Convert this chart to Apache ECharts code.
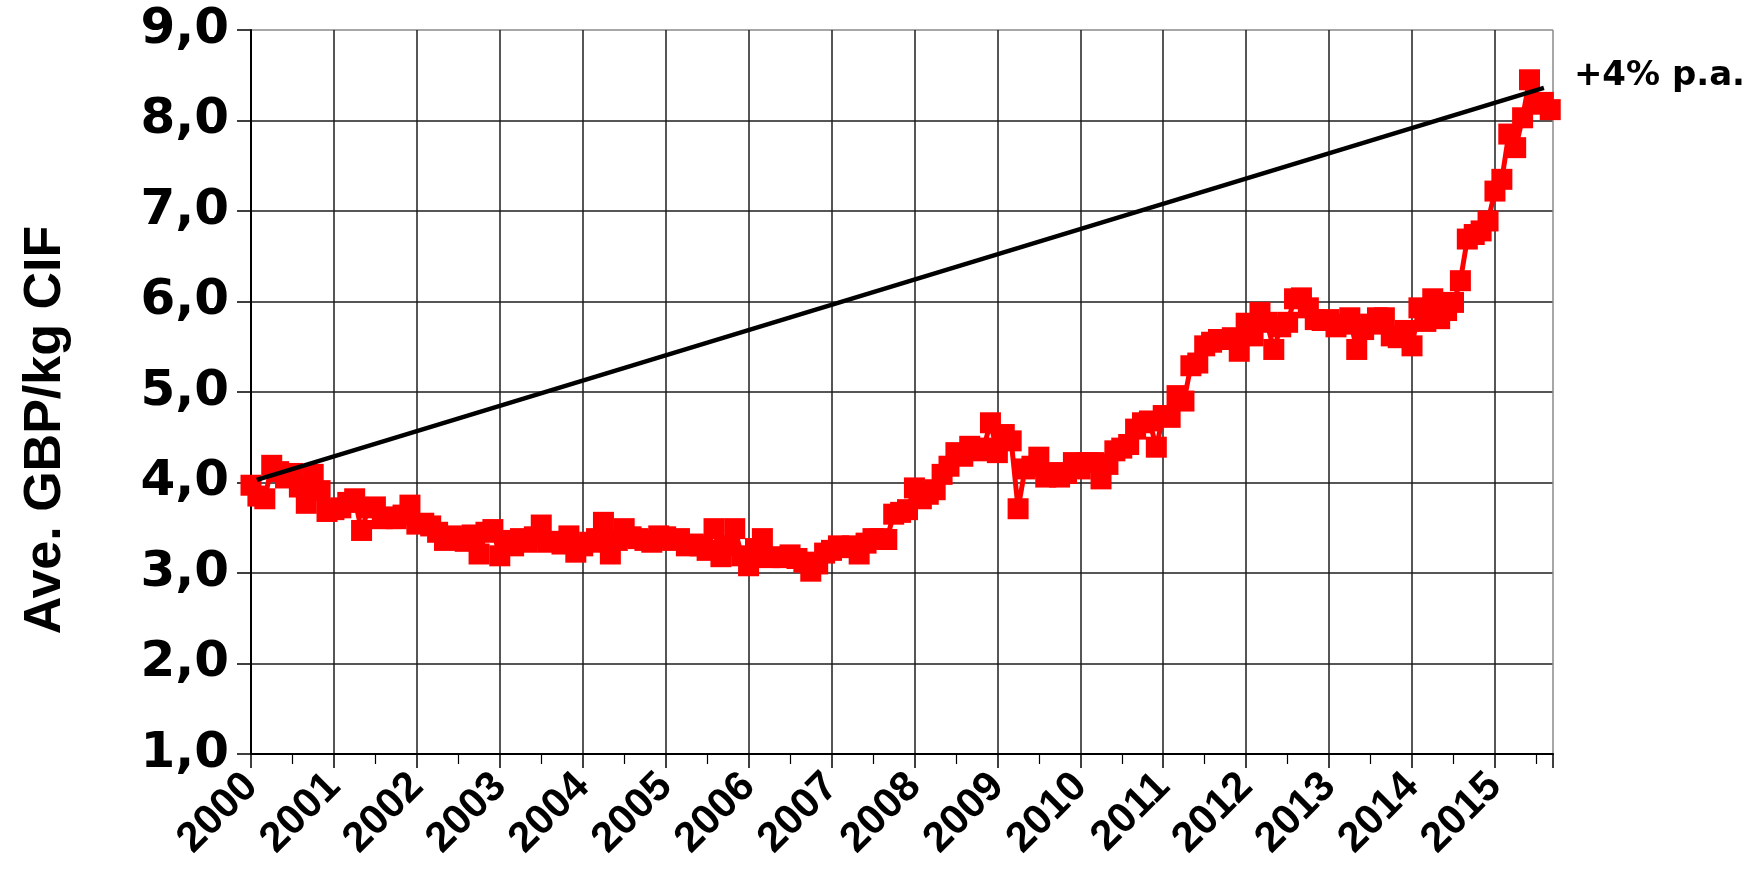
<!DOCTYPE html>
<html><head><meta charset="utf-8">
<script src="https://cdn.jsdelivr.net/npm/echarts@6/dist/echarts.min.js"></script>
<style>html,body{margin:0;padding:0;background:#fff}#c{width:1755px;height:888px}</style>
</head><body><div id="c"></div>
<script>
// Monthly average price, GBP/kg CIF (Jan..Dec)
const startYear = 2000;
const price2000 = [3.97,3.85,3.82,4.19,4.12,4.05,4.10,3.95,3.77,4.09,3.91,3.68];
const price2001 = [3.70,3.72,3.78,3.82,3.47,3.72,3.73,3.60,3.62,3.60,3.64,3.75];
const price2002 = [3.54,3.55,3.52,3.45,3.36,3.41,3.38,3.35,3.42,3.21,3.45,3.48];
const price2003 = [3.19,3.36,3.30,3.38,3.34,3.40,3.53,3.34,3.35,3.32,3.41,3.23];
const price2004 = [3.30,3.34,3.38,3.56,3.21,3.36,3.49,3.40,3.38,3.36,3.34,3.41];
const price2005 = [3.40,3.36,3.38,3.30,3.32,3.30,3.25,3.49,3.18,3.30,3.49,3.19];
const price2006 = [3.08,3.27,3.38,3.17,3.18,3.17,3.20,3.16,3.12,3.02,3.10,3.22];
const price2007 = [3.25,3.30,3.28,3.30,3.21,3.33,3.38,3.38,3.37,3.65,3.67,3.70];
const price2008 = [3.94,3.82,3.87,3.92,4.09,4.18,4.33,4.29,4.40,4.35,4.38,4.66];
const price2009 = [4.33,4.53,4.46,3.71,4.15,4.18,4.28,4.06,4.11,4.06,4.10,4.22];
const price2010 = [4.15,4.22,4.22,4.04,4.20,4.35,4.38,4.42,4.59,4.66,4.68,4.39];
const price2011 = [4.74,4.72,4.96,4.90,5.29,5.32,5.51,5.55,5.58,5.58,5.60,5.45];
const price2012 = [5.76,5.62,5.88,5.77,5.47,5.72,5.77,6.03,6.04,5.93,5.80,5.79];
const price2013 = [5.80,5.72,5.75,5.82,5.47,5.69,5.75,5.82,5.82,5.62,5.60,5.68];
const price2014 = [5.51,5.93,5.78,6.03,5.81,5.90,5.99,6.23,6.69,6.74,6.78,6.89];
const price2015 = [7.22,7.35,7.85,7.70,8.03,8.45,8.18,8.20,8.12];

// Trend line (+4% p.a.) end points [year, value]
const trendStart = [2000.07, 4.03];
const trendEnd = [2015.59, 8.36];
const trendLabel = '+4% p.a.';

// Axes
const yTicks = [1,2,3,4,5,6,7,8,9];
const xFirstYear = 2000;
const xLastYear = 2015;
const xMax = 2015.7;
const yTitle = 'Ave. GBP/kg CIF';

const allPrices = [].concat(price2000,price2001,price2002,price2003,price2004,price2005,
  price2006,price2007,price2008,price2009,price2010,price2011,price2012,price2013,price2014,price2015);
const priceData = allPrices.map((v, i) => [startYear + i / 12, v]);

const ySplitColors = yTicks.map((t, i) => i === yTicks.length - 1 ? '#8a8a8a' : '#1e1e1e');
const xSplitColors = [];
for (let y = xFirstYear; y <= xLastYear; y++) xSplitColors.push('#1e1e1e');
xSplitColors.push('#8a8a8a');

const chart = echarts.init(document.getElementById('c'), null, {renderer: 'canvas'});
chart.setOption({
  animation: false,
  backgroundColor: '#ffffff',
  grid: {left: 251, right: 202, top: 30, bottom: 134, containLabel: false, outerBoundsMode: 'none'},
  xAxis: {
    type: 'value', min: xFirstYear, max: xMax, interval: 1,
    axisLine: {show: true, onZero: false, lineStyle: {color: '#000', width: 2}},
    axisTick: {show: true, length: 14, lineStyle: {color: '#000', width: 1.5}},
    minorTick: {show: true, splitNumber: 2, length: 10, lineStyle: {color: '#000', width: 1.2}},
    splitLine: {show: true, lineStyle: {color: xSplitColors, width: 1.5}},
    axisLabel: {
      rotate: 45, margin: 26,
      fontFamily: "'Liberation Sans', Arial, sans-serif", fontWeight: 'bold', fontSize: 42, color: '#000',
      formatter: v => Math.abs(v - Math.round(v)) < 1e-6 ? String(Math.round(v)) : ''
    }
  },
  yAxis: {
    type: 'value', min: yTicks[0], max: yTicks[yTicks.length - 1], interval: 1,
    name: yTitle, nameLocation: 'middle', nameRotate: 90, nameGap: 179,
    nameTextStyle: {fontFamily: "'Liberation Sans', Arial, sans-serif", fontWeight: 'bold', fontSize: 52, color: '#000', padding: [0, 76, 0, 0]},
    axisLine: {show: true, lineStyle: {color: '#000', width: 2}},
    axisTick: {show: true, length: 14, lineStyle: {color: '#000', width: 1.5}},
    splitLine: {show: true, lineStyle: {color: ySplitColors, width: 1.5}},
    axisLabel: {
      margin: 22, fontFamily: "'DejaVu Sans', Verdana, sans-serif", fontWeight: 'bold', fontSize: 50, color: '#000',
      formatter: v => v.toFixed(1).replace('.', ',')
    }
  },
  series: [
    {
      name: 'price', type: 'line', data: priceData, z: 3,
      symbol: 'rect', symbolSize: 21, showAllSymbol: true,
      itemStyle: {color: '#ff0000'},
      lineStyle: {color: '#ff0000', width: 5}
    },
    {
      name: 'trend', type: 'line', data: [trendStart, trendEnd], z: 4,
      symbol: 'none',
      lineStyle: {color: '#000', width: 4.5},
      endLabel: {
        show: true, formatter: trendLabel, offset: [22, -12],
        fontFamily: "'DejaVu Sans', Verdana, sans-serif", fontWeight: 'bold', fontSize: 34, color: '#000'
      }
    }
  ]
});
</script></body></html>
